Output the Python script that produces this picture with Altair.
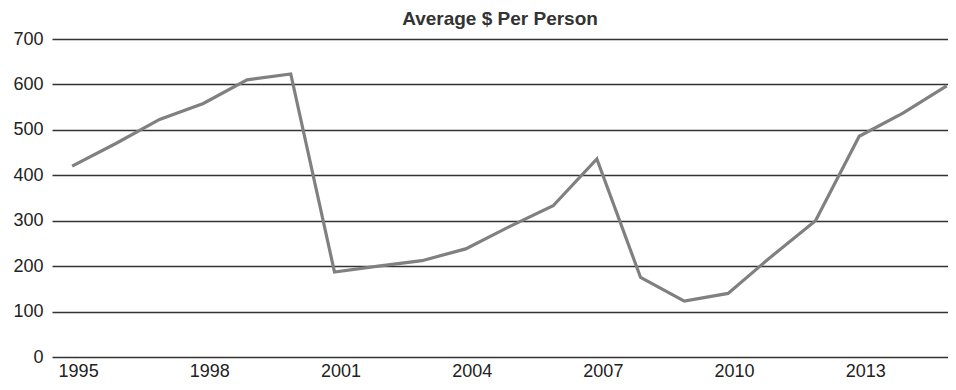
import altair as alt
import pandas as pd

years = list(range(1995, 2016))
values = [420, 470, 523, 558, 610, 623, 187, 200, 212, 238, 287, 333,
          436, 175, 123, 140, 222, 300, 486, 537, 597]
x_ticks = [1995, 1998, 2001, 2004, 2007, 2010, 2013]
y_ticks = [0, 100, 200, 300, 400, 500, 600, 700]

df = pd.DataFrame({"year": years, "value": values})

FONT = "Liberation Sans"

chart = alt.Chart(df).mark_line(color="#808080", strokeWidth=3.2).encode(
    x=alt.X("year:Q",
            scale=alt.Scale(domain=[1994.54, 2015.03], nice=False, zero=False),
            axis=alt.Axis(values=x_ticks, format="d", title=None, grid=False,
                          domain=False, ticks=False, labelFont=FONT,
                          labelFontSize=18, labelColor="#222222",
                          labelPadding=5, labelOffset=6, labelFlush=False)),
    y=alt.Y("value:Q",
            scale=alt.Scale(domain=[0, 700], nice=False),
            axis=alt.Axis(values=y_ticks, title=None, grid=True,
                          gridColor="#333333", gridWidth=1.3, gridOpacity=1,
                          domain=False, ticks=False, labelFont=FONT,
                          labelFontSize=18, labelColor="#222222",
                          labelPadding=9)),
).properties(
    width=896,
    height=318,
    title=alt.TitleParams("Average $ Per Person", font=FONT, fontSize=19,
                          fontWeight="bold", color="#333333", anchor="middle",
                          offset=1),
    autosize="none",
    padding={"left": 44, "top": 31, "right": 0, "bottom": 25},
).configure_view(stroke=None)

chart.save("out.html", embed_options={"renderer": "svg", "actions": False})
